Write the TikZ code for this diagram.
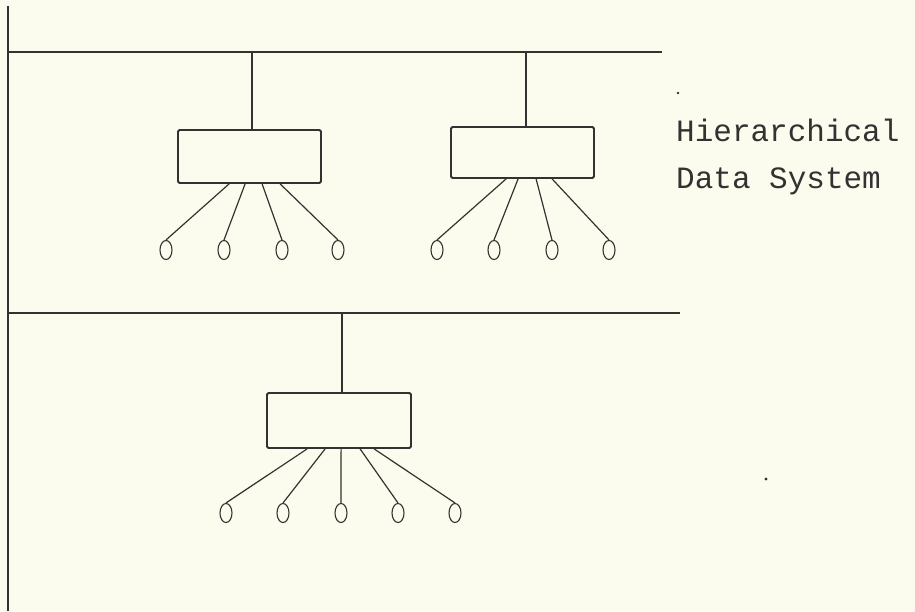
\documentclass[tikz,border=0pt]{standalone}
\usepackage{fontspec}
\newfontfamily\typew{Liberation Mono}
\usetikzlibrary{shapes.geometric,calc}
\definecolor{paper}{RGB}{252,252,238}
\definecolor{ink}{RGB}{50,50,50}
\tikzset{
  wire/.style={draw=ink,line width=1.6pt},
  thin wire/.style={draw=ink,line width=1.2pt},
  unitbox/.style={draw=ink,line width=1.8pt,rectangle,rounded corners=1.5pt,inner sep=0pt},
  term/.style={draw=ink,line width=1.1pt,ellipse,minimum width=12pt,minimum height=19pt,inner sep=0pt},
  label/.style={anchor=base west,inner sep=0pt,text=ink,font=\typew\fontsize{31}{38}\selectfont},
  speck/.style={fill=ink,draw=none}
}
\begin{document}
\begin{tikzpicture}[x=1pt,y=-1pt]
\fill[paper] (0,0) rectangle (915,611);
\useasboundingbox (0,0) rectangle (915,611);

% left rail and buses
\coordinate (railtop) at (8,6);
\coordinate (railbot) at (8,611);
\draw[wire] (railtop) -- (railbot);
\coordinate (bus1l) at (8,52);
\coordinate (bus1r) at (662,52);
\coordinate (bus2l) at (8,313);
\coordinate (bus2r) at (680,313);
\draw[wire] (bus1l) -- (bus1r);
\draw[wire] (bus2l) -- (bus2r);

% boxes
\node[unitbox,minimum width=143pt,minimum height=53pt] (b1) at (249.5,156.5) {};
\node[unitbox,minimum width=143pt,minimum height=51pt] (b2) at (522.5,152.5) {};
\node[unitbox,minimum width=144pt,minimum height=55pt] (b3) at (339,420.5) {};

% drops from buses
\coordinate (t1) at (252,52);
\coordinate (t2) at (526,52);
\coordinate (t3) at (342,313);
\draw[thin wire] (t1) -- (t1 |- b1.north);
\draw[thin wire] (t2) -- (t2 |- b2.north);
\draw[thin wire] (t3) -- (t3 |- b3.north);

% terminals
\node[term] (c11) at (166,250) {};
\node[term] (c12) at (224,250) {};
\node[term] (c13) at (282,250) {};
\node[term] (c14) at (338,250) {};
\node[term] (c21) at (437,250) {};
\node[term] (c22) at (494,250) {};
\node[term] (c23) at (552,250) {};
\node[term] (c24) at (609,250) {};
\node[term] (c31) at (226,513) {};
\node[term] (c32) at (283,513) {};
\node[term] (c33) at (341,513) {};
\node[term] (c34) at (398,513) {};
\node[term] (c35) at (455,513) {};

% fan-out lines
\draw[thin wire] ($(b1.south west)+(52,0)$) -- (c11.north);
\draw[thin wire] ($(b1.south west)+(68,0)$) -- (c12.north);
\draw[thin wire] ($(b1.south west)+(85,0)$) -- (c13.north);
\draw[thin wire] ($(b1.south west)+(103,0)$) -- (c14.north);
\draw[thin wire] ($(b2.south west)+(56,0)$) -- (c21.north);
\draw[thin wire] ($(b2.south west)+(68,0)$) -- (c22.north);
\draw[thin wire] ($(b2.south west)+(86,0)$) -- (c23.north);
\draw[thin wire] ($(b2.south west)+(102,0)$) -- (c24.north);
\draw[thin wire] ($(b3.south west)+(41,0)$) -- (c31.north);
\draw[thin wire] ($(b3.south west)+(59,0)$) -- (c32.north);
\draw[thin wire] ($(b3.south west)+(75,0)$) -- (c33.north);
\draw[thin wire] ($(b3.south west)+(94,0)$) -- (c34.north);
\draw[thin wire] ($(b3.south west)+(108,0)$) -- (c35.north);

% caption
\node[label] (cap1) at (676,141) {Hierarchical};
\node[label] (cap2) at (676,188) {Data System};

% specks
\fill[speck] (678,93) circle (1.3pt);
\fill[speck] (766,479) circle (1.6pt);
\end{tikzpicture}
\end{document}
